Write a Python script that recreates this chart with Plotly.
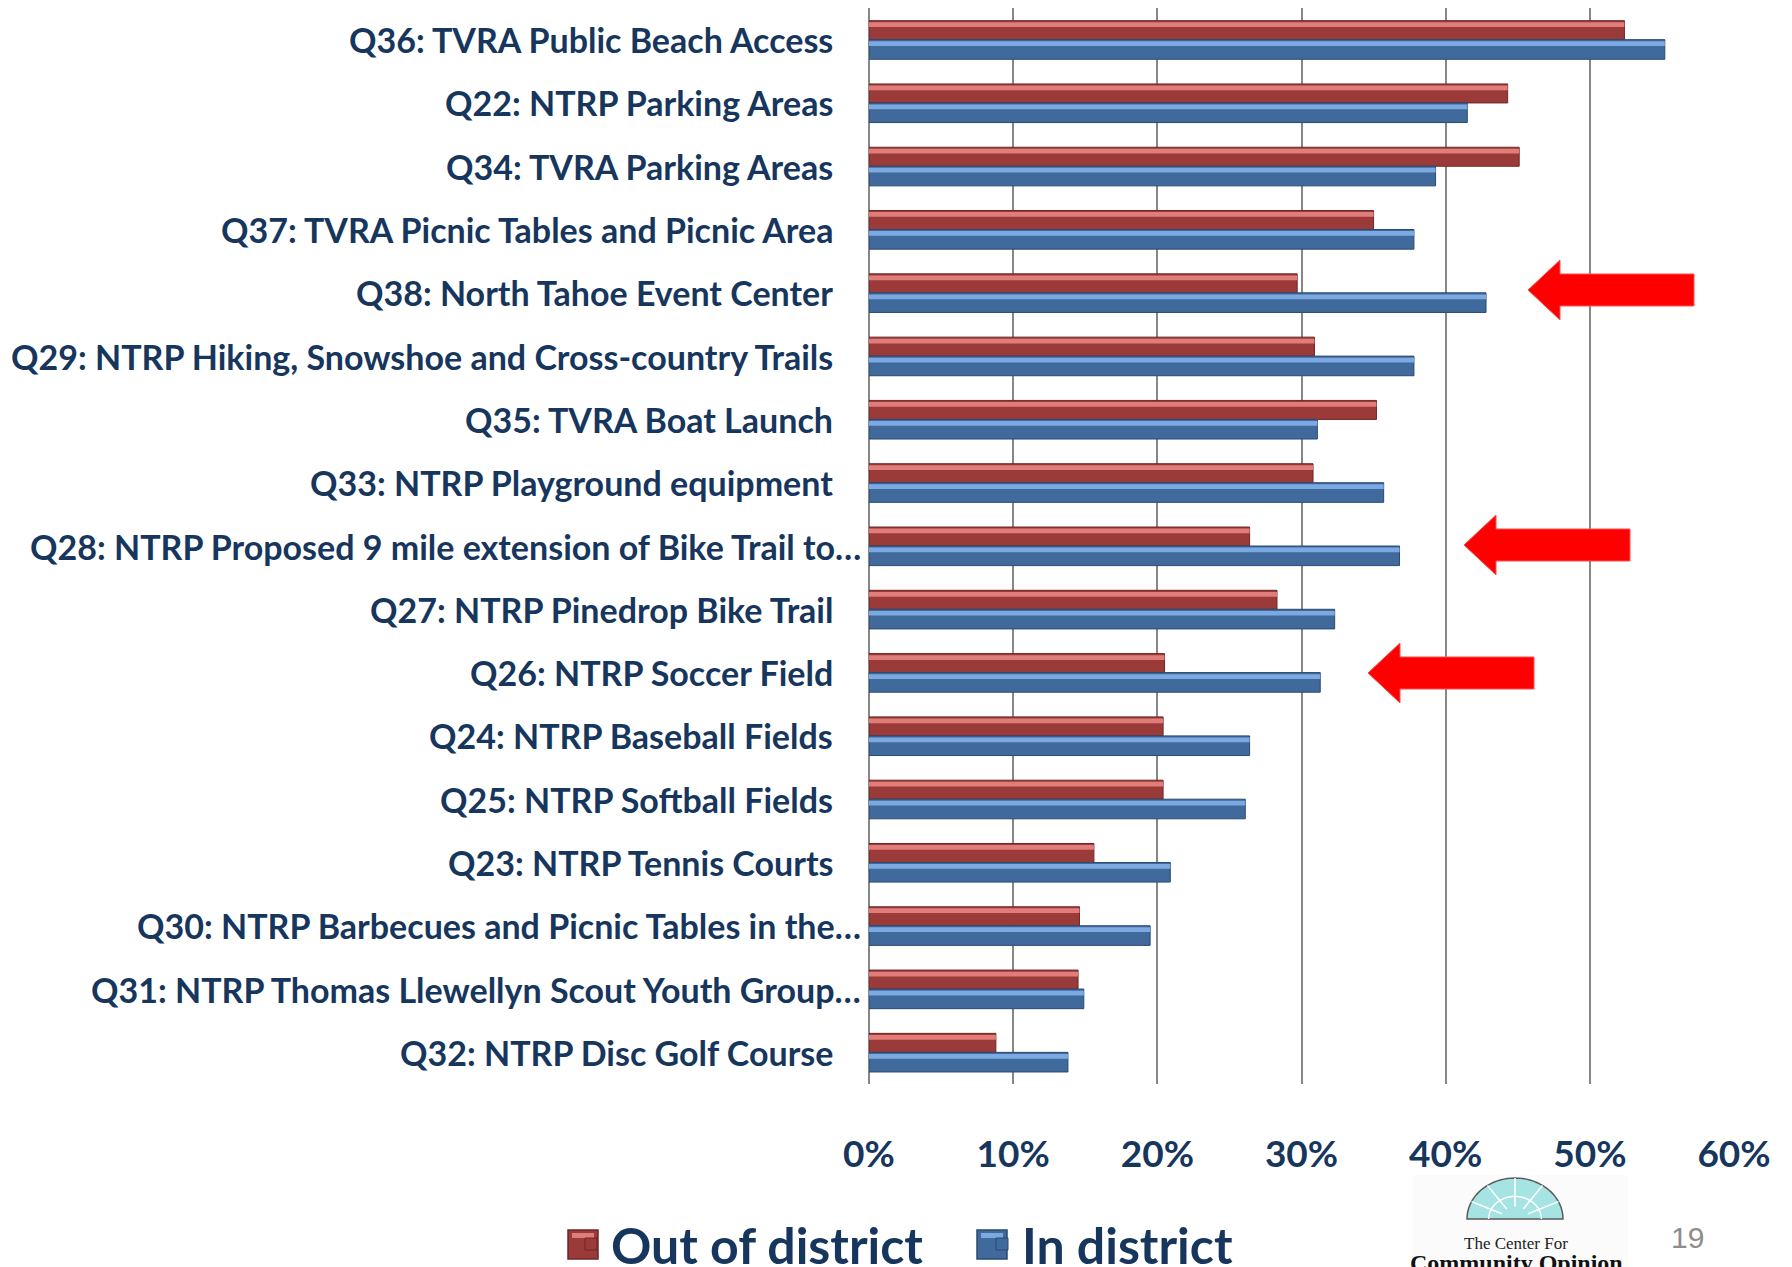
import math
import plotly.graph_objects as go

# ---------------- data ----------------
categories = [
    "Q36: TVRA Public Beach Access",
    "Q22: NTRP Parking Areas",
    "Q34: TVRA Parking Areas",
    "Q37: TVRA Picnic Tables and Picnic Area",
    "Q38: North Tahoe Event Center",
    "Q29: NTRP Hiking, Snowshoe and Cross-country Trails",
    "Q35: TVRA Boat Launch",
    "Q33: NTRP Playground equipment",
    "Q28: NTRP Proposed 9 mile extension of Bike Trail to…",
    "Q27: NTRP Pinedrop Bike Trail",
    "Q26: NTRP Soccer Field",
    "Q24: NTRP Baseball Fields",
    "Q25: NTRP Softball Fields",
    "Q23: NTRP Tennis Courts",
    "Q30: NTRP Barbecues and Picnic Tables in the…",
    "Q31: NTRP Thomas Llewellyn Scout Youth Group…",
    "Q32: NTRP Disc Golf Course",
]
out_of_district = [52.4, 44.3, 45.1, 35.0, 29.7, 30.9, 35.2, 30.8, 26.4, 28.3,
                   20.5, 20.4, 20.4, 15.6, 14.6, 14.5, 8.8]
in_district = [55.2, 41.5, 39.3, 37.8, 42.8, 37.8, 31.1, 35.7, 36.8, 32.3,
               31.3, 26.4, 26.1, 20.9, 19.5, 14.9, 13.8]
x_ticks = [0, 10, 20, 30, 40, 50, 60]
x_tick_labels = ["0%", "10%", "20%", "30%", "40%", "50%", "60%"]
series_names = ["Out of district", "In district"]

# ---------------- layout constants ----------------
PAGE = 8                      # default body margin of the html page
W, H = 1792 - PAGE, 1267 - PAGE
L, R, T, B = 861, 58, 0, 183
PW, PH = W - L - R, H - T - B
NAVY = "#17365D"
FONT = "Lato"


def px(x):
    """screen x pixel -> paper"""
    return (x - PAGE - L) / PW


def py(y):
    """screen y pixel -> paper"""
    return (H - B - (y - PAGE)) / PH


fig = go.Figure()

# main bars
fig.add_trace(go.Bar(
    y=categories, x=out_of_district, orientation="h", name=series_names[0],
    offset=-0.30, width=0.30,
    marker=dict(color="#9B3B39", line=dict(color="#6E2726", width=1)),
    hoverinfo="x+y",
))
fig.add_trace(go.Bar(
    y=categories, x=in_district, orientation="h", name=series_names[1],
    offset=0.0, width=0.31,
    marker=dict(color="#40699C", line=dict(color="#2B4A70", width=1)),
    hoverinfo="x+y",
))
# glossy highlight stripes (same data)
fig.add_trace(go.Bar(
    y=categories, x=out_of_district, orientation="h", showlegend=False,
    offset=-0.275, width=0.075, marker=dict(color="#E07C7A", line=dict(width=0)),
    hoverinfo="skip",
))
fig.add_trace(go.Bar(
    y=categories, x=in_district, orientation="h", showlegend=False,
    offset=0.025, width=0.075, marker=dict(color="#7DA9E2", line=dict(width=0)),
    hoverinfo="skip",
))

# category labels as annotations (truncated ones sit closer to axis, as in the original)
annotations = []
for c in categories:
    annotations.append(dict(
        x=0, xref="paper", y=c, yref="y", text=c, showarrow=False,
        xanchor="right", yanchor="middle",
        xshift=-6 if c.endswith("…") else -34,
        font=dict(family=FONT, size=34, color=NAVY, weight="bold"),
    ))

# page number
annotations.append(dict(x=px(1687), y=py(1237), xref="paper", yref="paper", text="19",
                        showarrow=False, xanchor="center", yanchor="middle",
                        font=dict(family="Liberation Sans", size=30, color="#8C8C8C")))
# logo text
annotations.append(dict(x=px(1516), y=py(1243), xref="paper", yref="paper",
                        text="The Center For", showarrow=False,
                        xanchor="center", yanchor="middle",
                        font=dict(family="Liberation Serif", size=17, color="#222222")))
annotations.append(dict(x=px(1516), y=py(1263), xref="paper", yref="paper",
                        text="<b>Community Opinion</b>", showarrow=False,
                        xanchor="center", yanchor="middle",
                        font=dict(family="Liberation Serif", size=24, color="#111111")))

shapes = []
# logo background
shapes.append(dict(type="rect", xref="paper", yref="paper",
                   x0=px(1413), x1=px(1628), y0=py(1175), y1=py(1267),
                   fillcolor="#FBFBFB", line=dict(width=0), layer="below"))
# logo semicircle
cx, cy, rx, ry = 1515, 1219, 48, 41
pts = [(cx + rx * math.cos(math.pi * k / 40), cy - ry * math.sin(math.pi * k / 40)) for k in range(41)]
path = "M " + " L ".join(f"{px(a):.5f},{py(b):.5f}" for a, b in pts) + " Z"
shapes.append(dict(type="path", xref="paper", yref="paper", path=path,
                   fillcolor="#A6E3E3", line=dict(color="#5A5A5A", width=1.5)))
for ang in [25, 55, 90, 125, 155]:
    a = math.radians(ang)
    shapes.append(dict(type="line", xref="paper", yref="paper",
                       x0=px(cx + 0.3 * rx * math.cos(a)), y0=py(cy - 0.3 * ry * math.sin(a)),
                       x1=px(cx + rx * math.cos(a)), y1=py(cy - ry * math.sin(a)),
                       line=dict(color="white", width=1.5)))
inner = [(cx + 0.55 * rx * math.cos(math.pi * k / 30), cy - 0.55 * ry * math.sin(math.pi * k / 30)) for k in range(31)]
shapes.append(dict(type="path", xref="paper", yref="paper",
                   path="M " + " L ".join(f"{px(a):.5f},{py(b):.5f}" for a, b in inner),
                   line=dict(color="white", width=1.5)))

# red call-out arrows (pixel geometry)
for tip_x, mid_y in [(1528, 290), (1464, 545), (1368, 673)]:
    hb = tip_x + 32
    tail = tip_x + 166
    p = [(tip_x, mid_y), (hb, mid_y - 30), (hb, mid_y - 16), (tail, mid_y - 16),
         (tail, mid_y + 16), (hb, mid_y + 16), (hb, mid_y + 30)]
    shapes.append(dict(type="path", xref="paper", yref="paper",
                       path="M " + " L ".join(f"{px(a):.5f},{py(b):.5f}" for a, b in p) + " Z",
                       fillcolor="#FF0000", line=dict(color="#FF5050", width=1)))

# enlarged legend swatches (sit under plotly's own legend symbols)
for x0, main, light, dark in [(568, "#9B3B39", "#E07C7A", "#6E2726"),
                              (977, "#40699C", "#7DA9E2", "#2B4A70")]:
    shapes.append(dict(type="rect", xref="paper", yref="paper",
                       x0=px(x0), x1=px(x0 + 30), y0=py(1259), y1=py(1230),
                       fillcolor=main, line=dict(color=dark, width=1.5)))
    shapes.append(dict(type="rect", xref="paper", yref="paper",
                       x0=px(x0 + 4), x1=px(x0 + 26), y0=py(1238), y1=py(1233),
                       fillcolor=light, line=dict(width=0)))

fig.update_layout(
    width=W, height=H,
    margin=dict(l=L, r=R, t=T, b=B, autoexpand=False),
    paper_bgcolor="white", plot_bgcolor="white",
    barmode="overlay",
    showlegend=True,
    legend=dict(orientation="h", x=px(571), y=py(1244), xanchor="left", yanchor="middle",
                font=dict(family=FONT, size=50, color=NAVY, weight="bold"),
                entrywidth=366, entrywidthmode="pixels",
                bgcolor="rgba(0,0,0,0)", traceorder="normal"),
    xaxis=dict(range=[0, 60], tickvals=x_ticks, ticktext=x_tick_labels,
               showgrid=True, gridcolor="#878787", gridwidth=2,
               zeroline=True, zerolinecolor="#878787", zerolinewidth=2,
               showline=False, ticks="", ticklabelstandoff=45,
               tickfont=dict(family=FONT, size=37, color=NAVY, weight="bold"),
               fixedrange=True),
    yaxis=dict(categoryorder="array", categoryarray=categories,
               showticklabels=False, showgrid=False, zeroline=False, ticks="",
               range=[len(categories) - 0.5, -0.5]),
    annotations=annotations,
    shapes=shapes,
)

fig.write_html("out.html")
